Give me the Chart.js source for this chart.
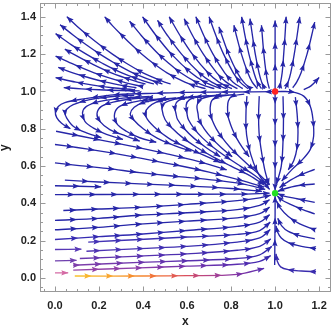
<!DOCTYPE html>
<html><head><meta charset="utf-8">
<script src="https://cdn.jsdelivr.net/npm/chart.js@4.4.1/dist/chart.umd.min.js"></script>
<style>html,body{margin:0;padding:0;background:#fff}canvas{display:block}</style>
</head><body>
<canvas id="c" width="334" height="329"></canvas>
<script>
// ---------------- data ----------------
const xTickLabels = ["0.0","0.2","0.4","0.6","0.8","1.0","1.2"];
const yTickLabels = ["0.0","0.2","0.4","0.6","0.8","1.0","1.2","1.4"];
const xAxisTitle = "x";
const yAxisTitle = "y";
const sourcePoint = [[1.0, 1.0]];
const sinkPoint = [[1.0, 0.455]];

// streamlines above y = 1 (flow up and away from the source), listed in flow order
const linesAbove = [
 [[0.525,1.04],[0.498,1.05],[0.446,1.075],[0.40,1.1],[0.326,1.15],[0.261,1.2],[0.203,1.25],[0.15,1.3],[0.10,1.35],[0.054,1.4]],
 [[0.488,1.04],[0.46,1.05],[0.354,1.1],[0.274,1.15],[0.204,1.2],[0.142,1.25],[0.085,1.3],[0.023,1.358]],
 [[0.449,1.04],[0.418,1.05],[0.304,1.1],[0.217,1.15],[0.142,1.2],[0.075,1.25],[0.003,1.31]],
 [[0.411,1.04],[0.378,1.05],[0.256,1.1],[0.164,1.15],[0.084,1.2],[0.045,1.227]],
 [[0.40,1.025],[0.312,1.05],[0.178,1.1],[0.076,1.15],[0.003,1.19]],
 [[0.37,1.02],[0.316,1.03],[0.232,1.05],[0.151,1.075],[0.081,1.1],[0.015,1.129]],
 [[0.355,1.01],[0.26,1.02],[0.195,1.03],[0.095,1.05],[0.003,1.074]],
 [[0.385,1.003],[0.3,1.005],[0.2,1.009],[0.12,1.014],[0.04,1.021]],
 [[0.684,1.015],[0.635,1.03],[0.59,1.05],[0.509,1.1],[0.448,1.15],[0.395,1.2],[0.348,1.25],[0.305,1.3],[0.263,1.35],[0.226,1.4]],
 [[0.724,1.015],[0.681,1.03],[0.641,1.05],[0.571,1.1],[0.518,1.15],[0.471,1.2],[0.43,1.25],[0.392,1.3],[0.339,1.376]],
 [[0.754,1.015],[0.681,1.05],[0.618,1.1],[0.529,1.2],[0.459,1.3],[0.398,1.4]],
 [[0.778,1.015],[0.712,1.05],[0.655,1.1],[0.575,1.2],[0.511,1.3],[0.466,1.381]],
 [[0.804,1.015],[0.745,1.05],[0.695,1.1],[0.624,1.2],[0.568,1.3],[0.519,1.4]],
 [[0.829,1.015],[0.778,1.05],[0.735,1.1],[0.674,1.2],[0.625,1.3],[0.587,1.39]],
 [[0.853,1.015],[0.809,1.05],[0.771,1.1],[0.718,1.2],[0.676,1.3],[0.64,1.4]],
 [[0.877,1.015],[0.841,1.05],[0.81,1.1],[0.766,1.2],[0.731,1.3],[0.70,1.4]],
 [[0.89,1.015],[0.857,1.05],[0.829,1.1],[0.789,1.2],[0.758,1.3],[0.745,1.346]],
 [[0.92,1.015],[0.896,1.05],[0.876,1.1],[0.847,1.2],[0.824,1.3],[0.813,1.355]],
 [[0.938,1.015],[0.919,1.05],[0.904,1.1],[0.881,1.2],[0.863,1.3],[0.848,1.4]],
 [[0.953,1.015],[0.939,1.05],[0.927,1.1],[0.91,1.2],[0.897,1.3],[0.886,1.39]],
 [[0.974,1.015],[0.966,1.05],[0.959,1.1],[0.949,1.2],[0.938,1.355]],
 [[1.0,1.01],[1.0,1.2],[1.0,1.38]],
 [[1.02,1.015],[1.032,1.1],[1.039,1.2],[1.045,1.3],[1.05,1.4]],
 [[1.046,1.015],[1.059,1.05],[1.071,1.1],[1.087,1.2],[1.1,1.3],[1.112,1.4]],
 [[1.08,1.02],[1.098,1.05],[1.118,1.1],[1.145,1.2],[1.166,1.3],[1.18,1.372]],
 [[1.13,1.01],[1.163,1.03],[1.2,1.075]]
];

// arcs between y = 0.45 and y = 1 (left along y~1, turn near y~0.9, then down-right)
const linesArcs = [
 [[0.995,0.999],[0.8,0.997],[0.6,0.995],[0.475,0.991],[0.28,0.983],[0.113,0.957],[0.045,0.94],[0.015,0.92],[0.002,0.89],[0.008,0.86],[0.03,0.83],[0.07,0.8]],
 [[0.36,0.98],[0.262,0.973],[0.158,0.956],[0.083,0.93],[0.053,0.905],[0.045,0.885],[0.053,0.859],[0.083,0.814],[0.143,0.778],[0.211,0.752]],
 [[0.43,0.973],[0.309,0.964],[0.204,0.947],[0.143,0.92],[0.125,0.885],[0.136,0.84],[0.173,0.805],[0.234,0.77],[0.309,0.743]],
 [[0.445,0.968],[0.354,0.961],[0.264,0.943],[0.211,0.92],[0.191,0.882],[0.204,0.84],[0.249,0.796],[0.324,0.761],[0.385,0.734]],
 [[0.5,0.962],[0.43,0.956],[0.354,0.943],[0.294,0.92],[0.271,0.882],[0.279,0.831],[0.324,0.787],[0.385,0.752],[0.46,0.728]],
 [[0.55,0.965],[0.47,0.957],[0.4,0.94],[0.36,0.915],[0.342,0.88],[0.356,0.85],[0.401,0.8],[0.464,0.75],[0.543,0.71],[0.62,0.68]],
 [[0.6,0.97],[0.52,0.96],[0.46,0.943],[0.425,0.915],[0.41,0.885],[0.42,0.85],[0.46,0.8],[0.516,0.75],[0.588,0.705],[0.673,0.66],[0.75,0.62]],
 [[0.66,0.975],[0.57,0.965],[0.515,0.948],[0.49,0.93],[0.486,0.905],[0.5,0.85],[0.535,0.8],[0.583,0.75],[0.645,0.7],[0.718,0.65],[0.8,0.6],[0.883,0.55],[0.95,0.5]],
 [[0.7,0.978],[0.61,0.968],[0.562,0.952],[0.545,0.922],[0.55,0.88],[0.557,0.85],[0.588,0.8],[0.631,0.75],[0.686,0.7],[0.751,0.65]],
 [[0.74,0.98],[0.655,0.971],[0.61,0.955],[0.596,0.927],[0.6,0.88],[0.606,0.85],[0.633,0.8],[0.671,0.75],[0.72,0.7],[0.778,0.65],[0.842,0.6],[0.908,0.55],[0.96,0.5]],
 [[0.78,0.982],[0.7,0.973],[0.658,0.955],[0.645,0.922],[0.65,0.88],[0.654,0.85],[0.678,0.8],[0.712,0.75],[0.755,0.7],[0.805,0.65]],
 [[0.82,0.984],[0.745,0.973],[0.713,0.952],[0.705,0.912],[0.708,0.87],[0.713,0.85],[0.733,0.8],[0.761,0.75],[0.796,0.7],[0.838,0.65],[0.885,0.6],[0.933,0.55],[0.975,0.5]],
 [[0.86,0.986],[0.805,0.975],[0.788,0.95],[0.784,0.915],[0.786,0.87],[0.79,0.85],[0.805,0.8],[0.825,0.75],[0.851,0.7],[0.882,0.65]]
];

// lines entering from the left edge between y = 0.45 and y = 0.8
const linesLeft = [
 [[0.005,0.787],[0.12,0.76],[0.25,0.73],[0.385,0.698],[0.5,0.668],[0.65,0.625],[0.78,0.58]],
 [[0.0,0.716],[0.1,0.70],[0.2,0.682],[0.3,0.662],[0.4,0.64],[0.55,0.606],[0.7,0.568],[0.85,0.522],[0.95,0.487]],
 [[0.0,0.617],[0.1,0.604],[0.235,0.588],[0.385,0.565],[0.55,0.545],[0.7,0.528],[0.85,0.505],[0.955,0.475]],
 [[0.045,0.525],[0.2,0.515],[0.385,0.505],[0.6,0.494],[0.8,0.48],[0.94,0.465]],
 [[0.0,0.495],[0.21,0.489]],
 [[0.0,0.447],[0.4,0.449],[0.83,0.45],[0.975,0.455]]
];

// lines below y = 0.45 (flow right, then up along x = 1)
const linesBottom = [
 [[0.038,0.362],[0.2,0.37],[0.385,0.379],[0.6,0.395],[0.828,0.415],[0.93,0.43],[0.98,0.445]],
 [[0.0,0.309],[0.2,0.32],[0.385,0.337],[0.6,0.35],[0.828,0.367],[0.93,0.39],[0.975,0.42]],
 [[0.0,0.259],[0.2,0.272],[0.385,0.289],[0.6,0.305],[0.828,0.323],[0.93,0.345],[0.975,0.38]],
 [[0.0,0.207],[0.2,0.222],[0.385,0.235],[0.6,0.255],[0.828,0.277],[0.93,0.3],[0.975,0.34]],
 [[0.151,0.193],[0.385,0.207],[0.6,0.22],[0.828,0.234],[0.93,0.255],[0.978,0.3]],
 [[0.0,0.153],[0.12,0.155]],
 [[0.143,0.144],[0.385,0.158],[0.6,0.17],[0.828,0.193],[0.93,0.215],[0.978,0.26]],
 [[0.0,0.092],[0.098,0.095]],
 [[0.113,0.105],[0.385,0.118],[0.6,0.13],[0.828,0.149],[0.93,0.17],[0.98,0.21]],
 [[0.083,0.069],[0.385,0.084],[0.6,0.093],[0.828,0.105],[0.93,0.125],[0.985,0.17]],
 [[0.083,0.043],[0.385,0.055],[0.6,0.064],[0.828,0.074],[0.93,0.09],[0.98,0.12]],
 [[0.0,0.028],[0.06,0.028]],
 [[0.09,0.011],[0.385,0.011],[0.6,0.013],[0.828,0.02],[0.95,0.052]],
 [[0.998,0.07],[0.999,0.2],[1.0,0.35],[1.0,0.44]]
];

// lines near and right of x = 1
const linesRight = [
 [[0.872,0.975],[0.868,0.9],[0.868,0.8],[0.875,0.734],[0.89,0.66],[0.915,0.58],[0.945,0.52],[0.975,0.475]],
 [[0.928,0.975],[0.925,0.88],[0.927,0.78],[0.935,0.7],[0.953,0.58],[0.972,0.5]],
 [[1.0,0.99],[1.0,0.8],[1.0,0.6],[1.0,0.47]],
 [[1.036,0.975],[1.038,0.85],[1.036,0.734],[1.028,0.6],[1.006,0.504]],
 [[1.092,0.97],[1.1,0.88],[1.104,0.78],[1.1,0.7],[1.085,0.63],[1.06,0.58]],
 [[1.005,0.999],[1.075,0.998],[1.13,0.975],[1.16,0.92],[1.172,0.85],[1.175,0.76],[1.16,0.69],[1.12,0.63],[1.075,0.58],[1.03,0.52]],
 [[1.186,0.034],[1.12,0.038],[1.06,0.045],[1.025,0.06],[1.01,0.09],[1.004,0.13]],
 [[1.186,0.158],[1.12,0.17],[1.06,0.19],[1.028,0.215],[1.01,0.25],[1.004,0.28]],
 [[1.18,0.211],[1.12,0.225],[1.06,0.25],[1.03,0.28],[1.012,0.32]],
 [[1.18,0.259],[1.112,0.29],[1.06,0.33],[1.021,0.379],[1.008,0.41]],
 [[1.18,0.344],[1.12,0.37],[1.07,0.395],[1.028,0.42],[1.01,0.44]],
 [[1.18,0.406],[1.1,0.425],[1.036,0.441],[1.012,0.452]],
 [[1.18,0.504],[1.1,0.495],[1.036,0.476],[1.012,0.465]],
 [[1.18,0.583],[1.11,0.55],[1.05,0.51],[1.02,0.485]]
];

// ---------------- styles ----------------
const BLUE = '#2626a8';
const bottomColors = [
  BLUE, BLUE, BLUE, [[0.0,'#3a2cb4'],[0.5,'#2a28ac'],[0.98,BLUE]],
  [[0.15,'#4634b6'],[0.9,'#2a28ac']],
  '#5838b6',
  [[0.14,'#5034b4'],[0.6,'#3c2eb0'],[0.98,'#2a28ac']],
  '#7040ae',
  [[0.11,'#6a38ae'],[0.5,'#5230b0'],[0.98,'#2e28ac']],
  [[0.08,'#8040aa'],[0.4,'#6c36ac'],[0.8,'#4c2eb0'],[0.985,'#2e28ac']],
  [[0.08,'#9846a6'],[0.4,'#8a3ca8'],[0.6,'#7434aa'],[0.83,'#5a2eb0'],[0.98,'#3a2aae']],
  '#d46aa4',
  [[0.09,'#f8c22c'],[0.25,'#f8a830'],[0.4,'#f5862e'],[0.5,'#ee6a40'],[0.6,'#d84e60'],[0.7,'#b44488'],[0.8,'#8e3aa2'],[0.95,'#5a2eb0']],
  BLUE
];
const rightColors = linesRight.map((l,i)=> i===6 ? '#3a2cae' : BLUE);

function hexRgb(h){h=h.replace('#','');return [parseInt(h.substr(0,2),16),parseInt(h.substr(2,2),16),parseInt(h.substr(4,2),16)];}
function colorAt(spec, v){
  if (typeof spec === 'string') return spec;
  if (v <= spec[0][0]) return spec[0][1];
  for (let i=0;i<spec.length-1;i++){
    const [a,ca]=spec[i],[b,cb]=spec[i+1];
    if (v>=a && v<=b){const t=(v-a)/(b-a);const A=hexRgb(ca),B=hexRgb(cb);
      return 'rgb('+A.map((q,k)=>Math.round(q+(B[k]-q)*t)).join(',')+')';}
  }
  return spec[spec.length-1][1];
}
function strokeFor(spec){
  if (typeof spec === 'string') return spec;
  return (ctx)=>{
    const ch=ctx.chart; if(!ch.chartArea) return spec[0][1];
    const xs=ch.scales.x;
    const x0=xs.getPixelForValue(spec[0][0]), x1=xs.getPixelForValue(spec[spec.length-1][0]);
    const g=ch.ctx.createLinearGradient(x0,0,x1,0);
    spec.forEach(([v,c])=>g.addColorStop(Math.min(1,Math.max(0,(xs.getPixelForValue(v)-x0)/(x1-x0))),c));
    return g;
  };
}

const datasets = [];
function addPoint(arr, color){
  datasets.push({data: arr.map(([x,y])=>({x,y})), showLine:false, pointRadius:3.2, pointHoverRadius:3.2,
    pointBackgroundColor:color, pointBorderWidth:0, order:-1});
}
function addLines(group, colors){
  group.forEach((line,i)=>{
    const spec = colors ? colors[i] : BLUE;
    datasets.push({data: line.map(([x,y])=>({x,y})), showLine:true, pointRadius:0, pointHoverRadius:0,
      borderWidth:1.35, borderColor: strokeFor(spec), tension:0.35, fill:false, isStream:true, colorSpec:spec, order:1});
  });
}
addPoint(sourcePoint, '#ff2222');
addPoint(sinkPoint, '#22e022');
addLines(linesAbove);
addLines(linesArcs);
addLines(linesLeft);
addLines(linesBottom, bottomColors);
addLines(linesRight, rightColors);

// ---------------- plugins ----------------
const SPACING = 21.7, AL = 6.6, AW = 2.7;
const arrowPlugin = {
  id:'arrows',
  afterDatasetDraw(chart, args){
    const ds = chart.data.datasets[args.index];
    if (!ds.isStream) return;
    const pts = args.meta.data;
    if (pts.length < 2) return;
    const poly = [];
    for (let i=0;i<pts.length-1;i++){
      const a=pts[i], b=pts[i+1];
      const c1x = (a.cp2x!==undefined)?a.cp2x:a.x, c1y=(a.cp2y!==undefined)?a.cp2y:a.y;
      const c2x = (b.cp1x!==undefined)?b.cp1x:b.x, c2y=(b.cp1y!==undefined)?b.cp1y:b.y;
      for (let k=0;k<16;k++){
        const t=k/16,u=1-t;
        poly.push([u*u*u*a.x+3*u*u*t*c1x+3*u*t*t*c2x+t*t*t*b.x, u*u*u*a.y+3*u*u*t*c1y+3*u*t*t*c2y+t*t*t*b.y]);
      }
    }
    const last=pts[pts.length-1]; poly.push([last.x,last.y]);
    const cum=[0];
    for (let i=1;i<poly.length;i++) cum.push(cum[i-1]+Math.hypot(poly[i][0]-poly[i-1][0],poly[i][1]-poly[i-1][1]));
    const L=cum[cum.length-1];
    const at=(s)=>{ s=Math.max(0,Math.min(L,s)); let j=1; while(j<cum.length-1 && cum[j]<s) j++;
      const seg=cum[j]-cum[j-1]||1e-9, t=(s-cum[j-1])/seg;
      return [poly[j-1][0]+(poly[j][0]-poly[j-1][0])*t, poly[j-1][1]+(poly[j][1]-poly[j-1][1])*t]; };
    const c=chart.ctx, xs=chart.scales.x, ca=chart.chartArea;
    c.save(); c.beginPath(); c.rect(ca.left,ca.top,ca.right-ca.left,ca.bottom-ca.top); c.clip();
    for (let s=L-0.3; s>5; s-=SPACING){
      const p=at(s), q=at(s-4);
      let dx=p[0]-q[0], dy=p[1]-q[1]; const n=Math.hypot(dx,dy)||1; dx/=n; dy/=n;
      const bx=p[0]-dx*AL, by=p[1]-dy*AL;
      c.fillStyle = colorAt(ds.colorSpec, xs.getValueForPixel(p[0]));
      c.beginPath(); c.moveTo(p[0]+dx*0.6,p[1]+dy*0.6);
      c.lineTo(bx-dy*AW, by+dx*AW); c.lineTo(bx+dx*1.2, by+dy*1.2); c.lineTo(bx+dy*AW, by-dx*AW);
      c.closePath(); c.fill();
    }
    c.restore();
  }
};
const framePlugin = {
  id:'frame',
  beforeDatasetsDraw(chart){
    const c=chart.ctx, a=chart.chartArea, xs=chart.scales.x, ys=chart.scales.y;
    c.save(); c.strokeStyle='#999'; c.lineWidth=1;
    const L=Math.round(a.left)+0.5, R=Math.round(a.right)-0.5, T=Math.round(a.top)+0.5, B=Math.round(a.bottom)-0.5;
    c.strokeRect(L,T,R-L,B-T);
    const xMaj=xTickLabels.map(parseFloat), yMaj=yTickLabels.map(parseFloat);
    const isMaj=(arr,v)=>arr.some(m=>Math.abs(m-v)<1e-6);
    c.beginPath();
    for (let v=-0.05; v<=1.2501; v+=0.05){
      const vv=Math.round(v*100)/100; const px=Math.round(xs.getPixelForValue(vv))+0.5;
      if (px<L+1||px>R-1) continue;
      const len=isMaj(xMaj,vv)?5:2.5;
      c.moveTo(px,B); c.lineTo(px,B-len); c.moveTo(px,T); c.lineTo(px,T+len);
    }
    for (let v=-0.05; v<=1.4501; v+=0.05){
      const vv=Math.round(v*100)/100; const py=Math.round(ys.getPixelForValue(vv))+0.5;
      if (py<T+1||py>B-1) continue;
      const len=isMaj(yMaj,vv)?5:2.5;
      c.moveTo(L,py); c.lineTo(L+len,py); c.moveTo(R,py); c.lineTo(R-len,py);
    }
    c.stroke(); c.restore();
  }
};

const tickFont = {family:"'Liberation Sans', Arial, sans-serif", size:11, weight:'bold'};
const titleFont = {family:"'Liberation Sans', Arial, sans-serif", size:12, weight:'bold', lineHeight:0.8};
new Chart(document.getElementById('c'), {
  type:'scatter',
  data:{datasets},
  options:{
    responsive:false, animation:false, events:[],
    layout:{padding:{top:1,right:2,left:0,bottom:0}},
    plugins:{legend:{display:false}, tooltip:{enabled:false}},
    scales:{
      x:{type:'linear', min:-0.068, max:1.253,
        afterBuildTicks:(s)=>{s.ticks=xTickLabels.map(l=>({value:parseFloat(l)}));},
        afterFit:(s)=>{s.height=37; s.paddingLeft=0; s.paddingRight=0;},
        ticks:{callback:(v)=>{const l=xTickLabels.find(t=>Math.abs(parseFloat(t)-v)<1e-9);return l===undefined?'':l;},
          padding:7, font:tickFont, color:'#222', maxRotation:0, autoSkip:false},
        grid:{display:false, drawTicks:false}, border:{display:false},
        title:{display:true, text:xAxisTitle, font:titleFont, color:'#222', padding:{top:0,bottom:2.5}}},
      y:{type:'linear', min:-0.0745, max:1.473,
        afterBuildTicks:(s)=>{s.ticks=yTickLabels.map(l=>({value:parseFloat(l)}));},
        afterFit:(s)=>{s.width=40; s.paddingTop=0; s.paddingBottom=0;},
        ticks:{callback:(v)=>{const l=yTickLabels.find(t=>Math.abs(parseFloat(t)-v)<1e-9);return l===undefined?'':l;},
          padding:4, font:tickFont, color:'#222', autoSkip:false},
        grid:{display:false, drawTicks:false}, border:{display:false},
        title:{display:true, text:yAxisTitle, font:titleFont, color:'#222', padding:{top:0,bottom:0}}}
    }
  },
  plugins:[framePlugin, arrowPlugin]
});
</script>
</body></html>
